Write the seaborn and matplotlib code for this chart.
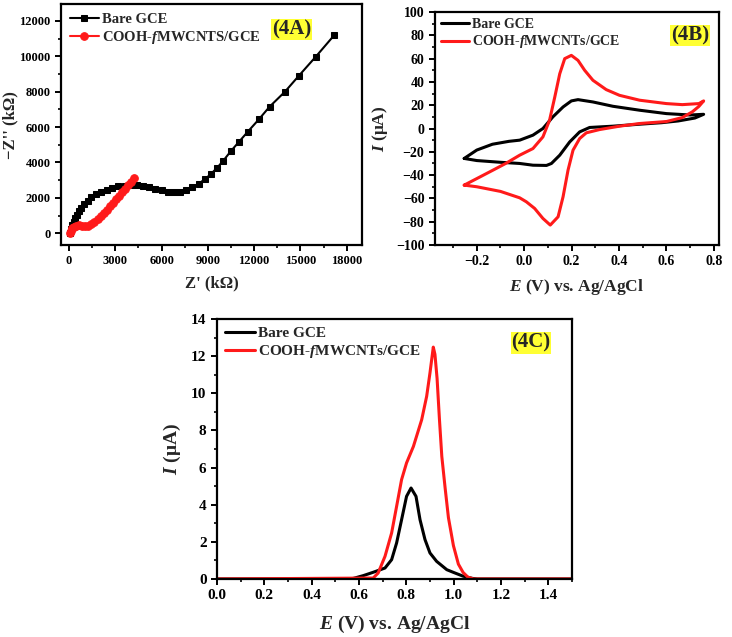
import numpy as np
import pandas as pd
import seaborn as sns
import matplotlib
matplotlib.use("Agg")
import matplotlib.pyplot as plt
from matplotlib.ticker import MultipleLocator

# ---------------- DATA ----------------
# (4A) Nyquist plots
bare_zre = [60, 120, 200, 300, 400, 520, 650, 800, 980, 1200, 1450, 1750, 2100, 2450,
            2800, 3200, 3600, 4000, 4400, 4800, 5200, 5600, 6000, 6400, 6800, 7200,
            7600, 8000, 8400, 8800, 9200, 9600, 10000, 10500, 11000, 11600, 12300,
            13000, 14000, 14900, 16000, 17200]
bare_zim = [20, 250, 450, 650, 850, 1050, 1250, 1450, 1650, 1850, 2030, 2200, 2350, 2470,
            2570, 2650, 2700, 2730, 2730, 2680, 2600, 2510, 2420, 2350, 2320, 2360,
            2470, 2620, 2800, 3050, 3350, 3700, 4100, 4650, 5150, 5750, 6430,
            7150, 8000, 8900, 9980, 11200]
cooh_zre = [80, 120, 200, 300, 450, 650, 850, 1050, 1250, 1450, 1650, 1850, 2050, 2250,
            2450, 2650, 2850, 3050, 3250, 3450, 3650, 3850, 4000, 4200]
cooh_zim = [0, 150, 300, 380, 430, 450, 440, 420, 430, 500, 620, 780, 950, 1130,
            1320, 1520, 1720, 1920, 2120, 2320, 2520, 2750, 2900, 3100]

# (4B) Cyclic voltammograms (closed loops: forward then reverse scan)
cv_bare_E = [-0.253, -0.2, -0.134, -0.064, -0.019, 0.037, 0.079, 0.121, 0.164, 0.199,
             0.227, 0.29, 0.374, 0.487, 0.6, 0.7, 0.757,
             0.72, 0.65, 0.58, 0.487, 0.374, 0.276, 0.234, 0.192, 0.15, 0.115, 0.094,
             0.037, -0.019, -0.1, -0.2, -0.253]
cv_bare_I = [-25.7, -18.5, -13.5, -11.0, -10.0, -5.7, 0.0, 10.0, 18.5, 23.7,
             24.8, 22.8, 19.1, 15.7, 12.8, 11.6, 12.2,
             9.0, 6.5, 5.0, 3.7, 2.0, 0.9, -2.9, -11.5, -22.9, -30.0, -31.7,
             -31.5, -30.0, -29.0, -27.5, -25.7]
cv_cooh_E = [-0.253, -0.2, -0.134, -0.078, -0.019, 0.037, 0.079, 0.107, 0.129, 0.15,
             0.171, 0.199, 0.227, 0.255, 0.29, 0.346, 0.402, 0.487, 0.6, 0.667, 0.737,
             0.757,
             0.737, 0.709, 0.667, 0.6, 0.487, 0.402, 0.318, 0.262, 0.234, 0.206, 0.185,
             0.164, 0.143, 0.11, 0.079, 0.044, 0.009, -0.019, -0.1, -0.2, -0.253]
cv_cooh_I = [-48.6, -43.0, -36.0, -30.0, -22.9, -17.2, -7.2, 7.1, 27.0, 47.0,
             60.0, 62.8, 58.5, 50.0, 41.4, 33.4, 28.5, 24.3, 21.4, 20.5, 21.4,
             23.7,
             19.0, 14.3, 9.4, 6.0, 4.3, 2.0, -0.9, -3.7, -8.6, -18.6, -35.7,
             -58.6, -75.8, -82.9, -77.2, -68.6, -62.9, -59.5, -54.0, -50.0, -48.6]

# (4C) Differential pulse voltammograms
dpv_bare_E = [0.0, 0.55, 0.576, 0.618, 0.66, 0.71, 0.738, 0.759, 0.78, 0.801, 0.82,
              0.841, 0.858, 0.879, 0.9, 0.928, 0.971, 1.0, 1.04, 1.08, 1.1, 1.5]
dpv_bare_I = [0.0, 0.0, 0.03, 0.18, 0.36, 0.59, 1.04, 1.94, 3.19, 4.45, 4.9,
              4.45, 3.19, 2.12, 1.4, 0.95, 0.5, 0.35, 0.15, 0.03, 0.0, 0.0]
dpv_cooh_E = [0.0, 0.66, 0.681, 0.71, 0.738, 0.759, 0.78, 0.801, 0.83, 0.865, 0.886,
              0.9, 0.914, 0.921, 0.93, 0.94, 0.95, 0.964, 0.978, 0.999, 1.02, 1.04,
              1.06, 1.084, 1.5]
dpv_cooh_I = [0.0, 0.05, 0.32, 1.22, 2.48, 3.91, 5.35, 6.25, 7.14, 8.58, 9.84,
              11.1, 12.49, 12.1, 10.8, 8.6, 6.6, 4.9, 3.3, 1.8, 0.8, 0.35,
              0.1, 0.0, 0.0]

labels_A = ["Bare GCE", "COOH-$f$MWCNTS/GCE"]
labels_BC = ["Bare GCE", "COOH-$f$MWCNTs/GCE"]

# ---------------- STYLE ----------------
sns.set_style("ticks")
plt.rcParams['font.family'] = ['Liberation Serif', 'DejaVu Serif']
plt.rcParams['font.weight'] = 'bold'
plt.rcParams['axes.labelweight'] = 'bold'
plt.rcParams['mathtext.fontset'] = 'custom'
plt.rcParams['mathtext.it'] = 'Liberation Serif:italic:bold'
plt.rcParams['mathtext.rm'] = 'Liberation Serif:bold'
plt.rcParams['mathtext.bf'] = 'Liberation Serif:bold'
plt.rcParams['axes.linewidth'] = 1.6
plt.rcParams['xtick.major.width'] = 1.4
plt.rcParams['ytick.major.width'] = 1.4
plt.rcParams['xtick.minor.width'] = 1.2
plt.rcParams['ytick.minor.width'] = 1.2
plt.rcParams['xtick.major.size'] = 4
plt.rcParams['ytick.major.size'] = 4
plt.rcParams['xtick.minor.size'] = 2.5
plt.rcParams['ytick.minor.size'] = 2.5
plt.rcParams['xtick.color'] = 'black'
plt.rcParams['ytick.color'] = 'black'
plt.rcParams['axes.edgecolor'] = 'black'
plt.rcParams['lines.solid_joinstyle'] = 'round'

fig = plt.figure(figsize=(7.32, 6.37), dpi=100)
axA = fig.add_axes([0.0833, 0.6154, 0.411, 0.378])
axB = fig.add_axes([0.594, 0.6154, 0.388, 0.3657])
axC = fig.add_axes([0.2964, 0.0911, 0.485, 0.408])

RED = '#ff1a1a'
YEL = '#ffff33'

# ---- 4A ----
dfA1 = pd.DataFrame({'x': bare_zre, 'y': bare_zim})
dfA2 = pd.DataFrame({'x': cooh_zre, 'y': cooh_zim})
sns.lineplot(data=dfA1, x='x', y='y', sort=False, estimator=None, ax=axA, color='black', lw=1.5,
             marker='s', markersize=5, markeredgecolor='black', label=labels_A[0])
sns.lineplot(data=dfA2, x='x', y='y', sort=False, estimator=None, ax=axA, color=RED, lw=1.5,
             marker='o', markersize=5.5, markeredgecolor=RED, label=labels_A[1])
axA.set_xlim(-520, 18980)
axA.set_ylim(-660, 12940)
axA.xaxis.set_major_locator(MultipleLocator(3000))
axA.xaxis.set_minor_locator(MultipleLocator(1500))
axA.yaxis.set_major_locator(MultipleLocator(2000))
axA.yaxis.set_minor_locator(MultipleLocator(1000))
axA.set_xlabel("Z' (k\u03a9)", fontsize=12, fontweight='bold', labelpad=6)
axA.set_ylabel("\u2212Z'' (k\u03a9)", fontsize=12, fontweight='bold', labelpad=1)
axA.text(0.767, 0.896, "(4A)", transform=axA.transAxes, fontsize=15, fontweight='bold',
         ha='center', va='center', bbox=dict(facecolor=YEL, edgecolor='none', pad=0.5))
axA.legend(loc='upper left', frameon=False, fontsize=10.5, handlelength=2.0,
           handletextpad=0.2, borderaxespad=0.2, labelspacing=0.2)

# ---- 4B ----
dfB1 = pd.DataFrame({'x': cv_bare_E, 'y': cv_bare_I})
dfB2 = pd.DataFrame({'x': cv_cooh_E, 'y': cv_cooh_I})
sns.lineplot(data=dfB1, x='x', y='y', sort=False, estimator=None, ax=axB, color='black', lw=2.2,
             label=labels_BC[0])
sns.lineplot(data=dfB2, x='x', y='y', sort=False, estimator=None, ax=axB, color=RED, lw=2.2,
             label=labels_BC[1])
axB.set_xlim(-0.377, 0.821)
axB.set_ylim(-100, 100)
axB.xaxis.set_major_locator(MultipleLocator(0.2))
axB.xaxis.set_minor_locator(MultipleLocator(0.1))
axB.yaxis.set_major_locator(MultipleLocator(20))
axB.yaxis.set_minor_locator(MultipleLocator(10))
axB.set_xlabel("$E$ (V) vs. Ag/AgCl", fontsize=12.5, fontweight='bold', labelpad=6)
axB.set_ylabel("$I$ (\u03bcA)", fontsize=12.5, fontweight='bold')
axB.text(0.898, 0.90, "(4B)", transform=axB.transAxes, fontsize=15, fontweight='bold',
         ha='center', va='center', bbox=dict(facecolor=YEL, edgecolor='none', pad=0.5))
axB.legend(loc='upper left', frameon=False, fontsize=10, handlelength=2.0,
           handletextpad=0.2, borderaxespad=0.05, labelspacing=0.15)

# ---- 4C ----
dfC1 = pd.DataFrame({'x': dpv_bare_E, 'y': dpv_bare_I})
dfC2 = pd.DataFrame({'x': dpv_cooh_E, 'y': dpv_cooh_I})
sns.lineplot(data=dfC1, x='x', y='y', sort=False, estimator=None, ax=axC, color='black', lw=2.2,
             label=labels_BC[0])
sns.lineplot(data=dfC2, x='x', y='y', sort=False, estimator=None, ax=axC, color=RED, lw=2.2,
             label=labels_BC[1])
axC.set_xlim(0, 1.5)
axC.set_ylim(0, 14)
axC.xaxis.set_major_locator(MultipleLocator(0.2))
axC.xaxis.set_minor_locator(MultipleLocator(0.1))
axC.yaxis.set_major_locator(MultipleLocator(2))
axC.yaxis.set_minor_locator(MultipleLocator(1))
axC.set_xlabel("$E$ (V) vs. Ag/AgCl", fontsize=14, fontweight='bold', labelpad=8)
axC.set_ylabel("$I$ (\u03bcA)", fontsize=14, fontweight='bold', labelpad=6)
axC.text(0.885, 0.908, "(4C)", transform=axC.transAxes, fontsize=15, fontweight='bold',
         ha='center', va='center', bbox=dict(facecolor=YEL, edgecolor='none', pad=0.5))
axC.legend(loc='upper left', frameon=False, fontsize=11, handlelength=2.0,
           handletextpad=0.2, borderaxespad=0.1, labelspacing=0.2)

for ax, ls in ((axA, 9.0), (axB, 10), (axC, 11)):
    ax.tick_params(which='both', direction='out', top=False, right=False, labelsize=ls)
    for lab in ax.get_xticklabels() + ax.get_yticklabels():
        lab.set_fontweight('bold')
    for sp in ax.spines.values():
        sp.set_visible(True)
        sp.set_linewidth(1.6)

fig.savefig("out.png", dpi=100)
